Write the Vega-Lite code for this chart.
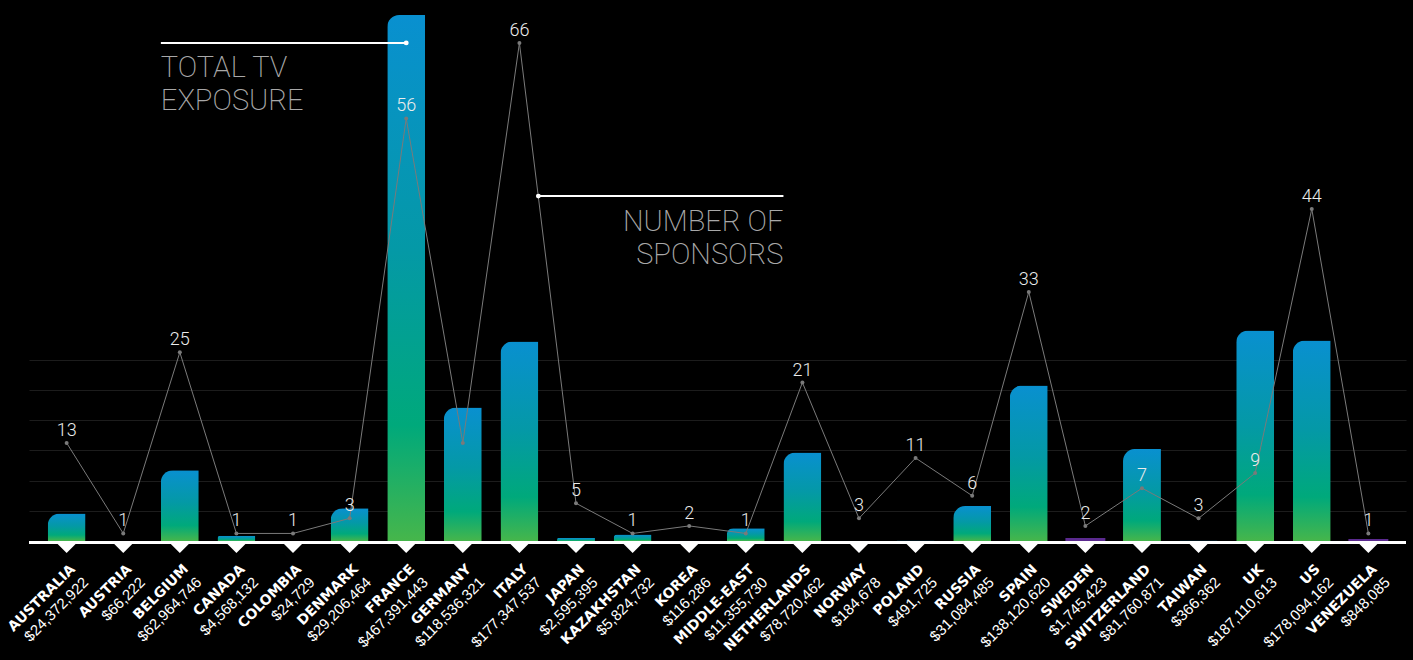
{
  "$schema": "https://vega.github.io/schema/vega-lite/v6.json",
  "width": 1377,
  "height": 526,
  "autosize": {"type": "none"},
  "padding": {"left": 29, "top": 15, "right": 7, "bottom": 119},
  "background": "#000000",
  "config": {"view": {"stroke": null}},
  "datasets": {
    "main": [
      {"country": "AUSTRALIA", "tv": 24372922, "sponsors": 13},
      {"country": "AUSTRIA", "tv": 66222, "sponsors": 1},
      {"country": "BELGIUM", "tv": 62964746, "sponsors": 25},
      {"country": "CANADA", "tv": 4568132, "sponsors": 1},
      {"country": "COLOMBIA", "tv": 24729, "sponsors": 1},
      {"country": "DENMARK", "tv": 29206464, "sponsors": 3},
      {"country": "FRANCE", "tv": 467391443, "sponsors": 56},
      {"country": "GERMANY", "tv": 118536321, "sponsors": 13},
      {"country": "ITALY", "tv": 177347537, "sponsors": 66},
      {"country": "JAPAN", "tv": 2595395, "sponsors": 5},
      {"country": "KAZAKHSTAN", "tv": 5824732, "sponsors": 1},
      {"country": "KOREA", "tv": 116286, "sponsors": 2},
      {"country": "MIDDLE-EAST", "tv": 11355730, "sponsors": 1},
      {"country": "NETHERLANDS", "tv": 78720462, "sponsors": 21},
      {"country": "NORWAY", "tv": 184678, "sponsors": 3},
      {"country": "POLAND", "tv": 491725, "sponsors": 11},
      {"country": "RUSSIA", "tv": 31084485, "sponsors": 6},
      {"country": "SPAIN", "tv": 138120620, "sponsors": 33},
      {"country": "SWEDEN", "tv": 1745423, "sponsors": 2},
      {"country": "SWITZERLAND", "tv": 81760871, "sponsors": 7},
      {"country": "TAIWAN", "tv": 366362, "sponsors": 3},
      {"country": "UK", "tv": 187110613, "sponsors": 9},
      {"country": "US", "tv": 178094162, "sponsors": 44},
      {"country": "VENEZUELA", "tv": 848085, "sponsors": 1}
    ]
  },
  "data": {"name": "main"},
  "layer": [
    {
      "mark": {"type": "line", "color": "#7a7a7a", "strokeWidth": 1},
      "encoding": {
        "x": {"field": "country", "type": "nominal", "sort": "ascending", "scale": {"paddingInner": 0.33, "paddingOuter": 0.33}, "axis": null},
        "y": {"field": "sponsors", "type": "quantitative", "scale": {"domain": [0, 69.7], "nice": false, "zero": true},
              "axis": {"values": [4, 8, 12, 16, 20, 24], "grid": true, "gridColor": "#1c1c1c", "gridWidth": 1, "labels": false, "ticks": false, "domain": false, "title": null}}
      },
      "transform": [{"filter": "false"}]
    },
    {
      "transform": [{"filter": "datum.country !== 'SWEDEN' && datum.country !== 'VENEZUELA'"}],
      "mark": {
        "type": "bar",
        "cornerRadiusTopLeft": 12,
        "color": {
          "x1": 0, "y1": 0, "x2": 0, "y2": 1, "gradient": "linear",
          "stops": [
            {"offset": 0, "color": "#0990d0"},
            {"offset": 0.45, "color": "#0499a6"},
            {"offset": 0.78, "color": "#00a97b"},
            {"offset": 1, "color": "#46b64b"}
          ]
        }
      },
      "encoding": {
        "x": {"field": "country", "type": "nominal", "sort": "ascending", "axis": null},
        "y": {"field": "tv", "type": "quantitative", "scale": {"domain": [0, 467391443], "nice": false, "zero": true}, "axis": null}
      }
    },
    {
      "transform": [{"filter": "datum.country === 'SWEDEN' || datum.country === 'VENEZUELA'"}],
      "mark": {"type": "bar", "color": "#5b2a8f", "stroke": "#5b2a8f", "strokeWidth": 2},
      "encoding": {
        "x": {"field": "country", "type": "nominal", "sort": "ascending", "axis": null},
        "y": {"field": "tv", "type": "quantitative", "scale": {"domain": [0, 467391443], "nice": false, "zero": true}, "axis": null}
      }
    },
    {
      "mark": {"type": "rule", "color": "#ffffff", "strokeWidth": 3, "yOffset": 1.5},
      "encoding": {
        "y": {"datum": 0, "type": "quantitative", "scale": {"domain": [0, 467391443], "nice": false, "zero": true}, "axis": null}
      }
    },
    {
      "mark": {"type": "point", "shape": "M-1,0L1,0L0,1Z", "filled": true, "color": "#ffffff", "opacity": 1, "size": 324, "strokeWidth": 0, "yOffset": 3},
      "encoding": {
        "x": {"field": "country", "type": "nominal", "sort": "ascending", "axis": null},
        "y": {"datum": 0, "type": "quantitative", "scale": {"domain": [0, 467391443], "nice": false, "zero": true}, "axis": null}
      }
    },
    {
      "mark": {"type": "line", "color": "#7a7a7a", "strokeWidth": 1},
      "encoding": {
        "x": {"field": "country", "type": "nominal", "sort": "ascending", "axis": null},
        "y": {"field": "sponsors", "type": "quantitative", "scale": {"domain": [0, 69.7], "nice": false, "zero": true}, "axis": null}
      }
    },
    {
      "mark": {"type": "point", "filled": true, "color": "#7a7a7a", "opacity": 1, "size": 16},
      "encoding": {
        "x": {"field": "country", "type": "nominal", "sort": "ascending", "axis": null},
        "y": {"field": "sponsors", "type": "quantitative", "scale": {"domain": [0, 69.7], "nice": false, "zero": true}, "axis": null}
      }
    },
    {
      "transform": [{"filter": "datum.country !== 'GERMANY'"}],
      "mark": {"type": "text", "color": "#ececec", "fontSize": 18, "font": "Roboto", "fontWeight": 300, "baseline": "alphabetic", "dy": -7},
      "encoding": {
        "x": {"field": "country", "type": "nominal", "sort": "ascending", "axis": null},
        "y": {"field": "sponsors", "type": "quantitative", "scale": {"domain": [0, 69.7], "nice": false, "zero": true}, "axis": null},
        "text": {"field": "sponsors", "type": "quantitative"}
      }
    },
    {
      "mark": {"type": "text", "color": "#ffffff", "fontSize": 14, "font": "DejaVu Sans", "fontWeight": "bold", "angle": 315, "align": "right", "baseline": "middle", "dx": -14, "dy": 23},
      "encoding": {
        "x": {"field": "country", "type": "nominal", "sort": "ascending", "axis": null},
        "y": {"datum": 0, "type": "quantitative", "scale": {"domain": [0, 467391443], "nice": false, "zero": true}, "axis": null},
        "text": {"field": "country", "type": "nominal"}
      }
    },
    {
      "mark": {"type": "text", "color": "#ffffff", "fontSize": 15, "font": "Liberation Sans", "angle": 315, "align": "right", "baseline": "middle", "dx": -14, "dy": 41},
      "encoding": {
        "x": {"field": "country", "type": "nominal", "sort": "ascending", "axis": null},
        "y": {"datum": 0, "type": "quantitative", "scale": {"domain": [0, 467391443], "nice": false, "zero": true}, "axis": null},
        "text": {"field": "tv", "type": "quantitative", "format": "$,"}
      }
    },
    {
      "data": {"values": [{"from": "BELGIUM", "to": "FRANCE", "level": 66}]},
      "mark": {"type": "rule", "color": "#ffffff", "strokeWidth": 2},
      "encoding": {
        "x": {"field": "from", "type": "nominal", "sort": "ascending", "bandPosition": 0, "axis": null},
        "x2": {"field": "to", "bandPosition": 0.5},
        "y": {"field": "level", "type": "quantitative", "scale": {"domain": [0, 69.7], "nice": false, "zero": true}, "axis": null}
      }
    },
    {
      "data": {"values": [{"at": "FRANCE", "level": 66}]},
      "mark": {"type": "point", "filled": true, "color": "#ffffff", "opacity": 1, "size": 24},
      "encoding": {
        "x": {"field": "at", "type": "nominal", "sort": "ascending", "axis": null},
        "y": {"field": "level", "type": "quantitative", "scale": {"domain": [0, 69.7], "nice": false, "zero": true}, "axis": null}
      }
    },
    {
      "data": {"values": [{"at": "BELGIUM", "level": 66, "label": ["TOTAL TV", "EXPOSURE"]}]},
      "mark": {"type": "text", "color": "#a8a8a8", "fontSize": 29, "font": "Roboto", "fontWeight": 200, "align": "left", "baseline": "alphabetic", "lineHeight": 33, "dy": 34},
      "encoding": {
        "x": {"field": "at", "type": "nominal", "sort": "ascending", "bandPosition": 0, "axis": null},
        "y": {"field": "level", "type": "quantitative", "scale": {"domain": [0, 69.7], "nice": false, "zero": true}, "axis": null},
        "text": {"field": "label"}
      }
    },
    {
      "data": {"values": [{"from": "NETHERLANDS", "to": "ITALY", "level": 45.7}]},
      "mark": {"type": "rule", "color": "#ffffff", "strokeWidth": 2},
      "encoding": {
        "x": {"field": "from", "type": "nominal", "sort": "ascending", "bandPosition": 0, "axis": null},
        "x2": {"field": "to", "bandPosition": 1},
        "y": {"field": "level", "type": "quantitative", "scale": {"domain": [0, 69.7], "nice": false, "zero": true}, "axis": null}
      }
    },
    {
      "data": {"values": [{"at": "ITALY", "level": 45.7}]},
      "mark": {"type": "point", "filled": true, "color": "#ffffff", "opacity": 1, "size": 24},
      "encoding": {
        "x": {"field": "at", "type": "nominal", "sort": "ascending", "bandPosition": 1, "axis": null},
        "y": {"field": "level", "type": "quantitative", "scale": {"domain": [0, 69.7], "nice": false, "zero": true}, "axis": null}
      }
    },
    {
      "data": {"values": [{"at": "NETHERLANDS", "level": 45.7, "label": ["NUMBER OF", "SPONSORS"]}]},
      "mark": {"type": "text", "color": "#a8a8a8", "fontSize": 29, "font": "Roboto", "fontWeight": 200, "align": "right", "baseline": "alphabetic", "lineHeight": 33, "dy": 35},
      "encoding": {
        "x": {"field": "at", "type": "nominal", "sort": "ascending", "bandPosition": 0, "axis": null},
        "y": {"field": "level", "type": "quantitative", "scale": {"domain": [0, 69.7], "nice": false, "zero": true}, "axis": null},
        "text": {"field": "label"}
      }
    }
  ],
  "resolve": {"scale": {"y": "independent"}}
}
